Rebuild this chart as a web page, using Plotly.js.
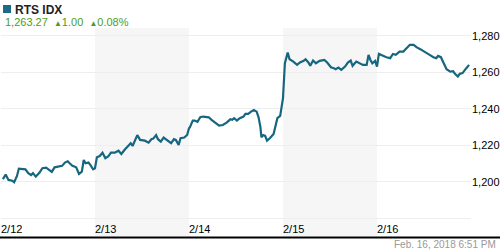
<!DOCTYPE html>
<html>
<head>
<meta charset="utf-8">
<script src="https://cdn.plot.ly/plotly-3.0.1.min.js"></script>
<style>html,body{margin:0;padding:0;background:#fff;}#chart{width:500px;height:250px;}</style>
</head>
<body>
<div id="chart"></div>
<script>
// x: fractional trading day index (0 = 2/12 open, 5 = end of 2/16)
const dayPos = [0.02,0.05,0.08,0.10,0.12,0.14,0.17,0.19,0.24,0.26,0.29,0.32,0.34,0.37,0.41,0.44,0.48,0.51,0.54,0.57,0.62,0.65,0.68,0.71,0.73,0.76,0.80,0.83,0.86,0.88,0.90,0.93,0.95,0.98,
1.00,1.02,1.05,1.08,1.11,1.14,1.17,1.21,1.25,1.28,1.32,1.35,1.38,1.40,1.43,1.45,1.48,1.53,1.57,1.60,1.62,1.65,1.67,1.70,1.73,1.77,1.81,1.84,1.86,1.89,1.91,1.95,1.98,
2.00,2.01,2.04,2.06,2.09,2.12,2.15,2.21,2.24,2.28,2.32,2.36,2.40,2.44,2.46,2.48,2.51,2.54,2.58,2.60,2.63,2.66,2.69,2.72,2.74,2.76,2.77,2.79,2.81,2.83,2.86,2.90,2.92,2.94,2.97,
3.00,3.02,3.05,3.07,3.11,3.15,3.18,3.22,3.24,3.27,3.29,3.32,3.35,3.39,3.44,3.47,3.51,3.54,3.56,3.59,3.62,3.66,3.69,3.72,3.74,3.78,3.82,3.85,3.89,3.91,3.93,3.95,3.98,
4.00,4.02,4.06,4.10,4.14,4.17,4.20,4.24,4.28,4.32,4.35,4.39,4.42,4.46,4.49,4.53,4.56,4.60,4.63,4.65,4.68,4.71,4.74,4.78,4.81,4.83,4.86,4.88,4.91,4.95,4.98];
const indexValues = [1201.4,1203.9,1201.0,1200.8,1200.6,1199.7,1203.2,1207.2,1207.2,1206.8,1204.7,1203.7,1204.7,1202.8,1205.0,1207.4,1207.7,1206.5,1205.4,1207.9,1208.3,1208.7,1210.5,1211.2,1210.1,1208.7,1207.9,1204.3,1205.5,1211.9,1210.1,1210.5,1209.2,1206.8,
1207.4,1213.4,1214.1,1215.9,1212.9,1213.8,1215.9,1215.9,1217.0,1215.2,1217.8,1219.2,1221.1,1219.6,1222.9,1225.5,1222.9,1222.5,1221.4,1223.3,1223.6,1225.5,1223.3,1222.0,1224.2,1222.5,1221.1,1223.3,1222.9,1220.2,1223.8,1224.2,1225.6,
1229.3,1229.9,1233.5,1233.5,1232.8,1235.3,1235.7,1235.3,1233.9,1232.1,1230.7,1231.1,1232.4,1234.2,1233.9,1234.8,1233.5,1234.8,1235.7,1237.2,1237.2,1238.4,1239.3,1238.4,1235.3,1229.9,1224.4,1225.6,1225.1,1222.5,1223.8,1226.2,1229.9,1234.8,1236.1,
1245.8,1264.9,1270.7,1267.1,1265.8,1264.0,1265.3,1266.2,1267.1,1265.3,1263.5,1266.4,1264.9,1266.2,1266.7,1265.3,1262.7,1262.2,1261.6,1262.5,1261.3,1263.1,1265.3,1266.4,1263.5,1265.8,1264.9,1264.0,1264.0,1269.5,1266.7,1264.9,1266.2,
1263.1,1270.0,1268.9,1268.2,1267.7,1270.0,1269.5,1271.3,1271.3,1273.7,1275.0,1275.0,1273.7,1272.6,1271.8,1270.7,1269.5,1268.2,1267.7,1268.9,1268.2,1264.9,1261.6,1260.3,1260.5,1259.1,1257.6,1259.1,1259.5,1262.2,1264.0];
const dayStarts = [0,1,2,3,4];
const dayLabels = ['2/12','2/13','2/14','2/15','2/16'];
const shadedDays = [1,3];
const yTicks = [1180,1200,1220,1240,1260,1280];
const yTickLabels = ['','1,200','1,220','1,240','1,260','1,280'];
const title = 'RTS IDX';
const lastPrice = '1,263.27';
const change = '1.00';
const changePct = '0.08%';
const timestamp = 'Feb. 16, 2018 6:51 PM';

const W = 470, TOP = 28, BOT = 221, H = BOT - TOP;
const px = (x) => (x - 1) / W;
const py = (y) => (BOT - y) / H;

const shapes = shadedDays.map(d => ({
  type: 'rect', xref: 'x', yref: 'paper', x0: d, x1: d + 1, y0: py(236), y1: 1,
  fillcolor: '#f6f6f6', line: {width: 0}, layer: 'below'
}));
shapes.push({type: 'line', xref: 'paper', yref: 'paper', x0: px(0), x1: px(500), y0: py(237.5), y1: py(237.5), line: {color: '#000', width: 2}});
shapes.push({type: 'rect', xref: 'paper', yref: 'paper', x0: px(3), x1: px(11), y0: py(13), y1: py(5), fillcolor: '#1c6a84', line: {width: 0}});

const data = [{
  x: dayPos, y: indexValues, type: 'scatter', mode: 'lines',
  line: {color: '#17667f', width: 2.2}, hoverinfo: 'skip'
}];

const layout = {
  width: 500, height: 250,
  margin: {l: 1, r: 29, t: TOP, b: 250 - BOT},
  paper_bgcolor: '#fff', plot_bgcolor: 'rgba(0,0,0,0)',
  showlegend: false,
  font: {family: 'Liberation Sans, Arial, sans-serif', size: 11, color: '#000'},
  xaxis: {
    range: [0, 5], tickvals: dayStarts, ticktext: dayLabels,
    ticklabelposition: 'outside right', showgrid: false, zeroline: false,
    showline: false, ticks: '', fixedrange: true,
    tickfont: {size: 11, color: '#000'}
  },
  yaxis: {
    range: [1178.5, 1284.2], side: 'right', tickvals: yTicks, ticktext: yTickLabels,
    showgrid: true, gridcolor: '#eeeeee', gridwidth: 1, zeroline: false,
    showline: false, ticks: '', fixedrange: true,
    tickfont: {size: 11, color: '#000'}
  },
  shapes: shapes,
  annotations: [
    {xref: 'paper', yref: 'paper', x: px(13), y: py(9.5), xanchor: 'left', yanchor: 'middle', showarrow: false,
     text: '<b>' + title + '</b>', font: {size: 12, color: '#222'}},
    {xref: 'paper', yref: 'paper', x: px(3), y: py(21.5), xanchor: 'left', yanchor: 'middle', showarrow: false,
     text: lastPrice + '  <span style="font-size:8px">▲</span>' + change + '  <span style="font-size:8px">▲</span>' + changePct,
     font: {size: 11, color: '#4c9e1a'}},
    {xref: 'paper', yref: 'paper', x: px(498), y: py(244), xanchor: 'right', yanchor: 'middle', showarrow: false,
     text: timestamp, font: {size: 10, color: '#999'}}
  ]
};

Plotly.newPlot('chart', data, layout, {staticPlot: true, displayModeBar: false});
</script>
</body>
</html>
